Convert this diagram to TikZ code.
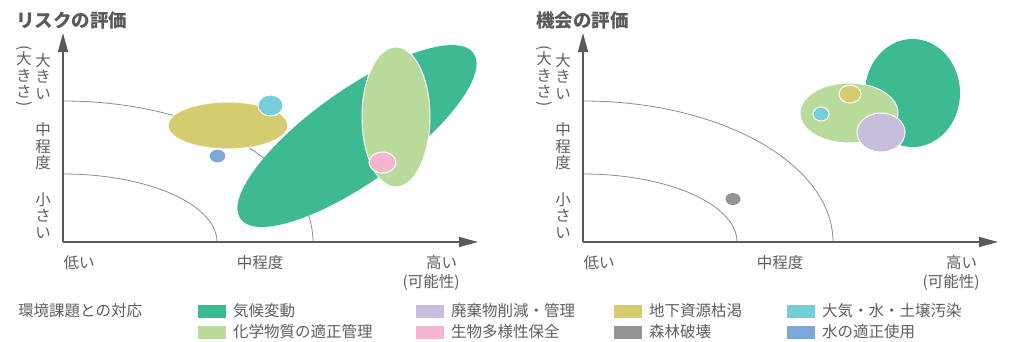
\documentclass[tikz,border=0pt]{standalone}
\usepackage{fontspec}
\setmainfont{Noto Sans CJK JP}
\usepackage{tikz}
\usetikzlibrary{arrows.meta}

\definecolor{txtgray}{HTML}{5E5E5E}
\definecolor{axisgray}{HTML}{595959}
\definecolor{arcgray}{HTML}{8C8C8C}
\definecolor{climate}{HTML}{3DBA93}
\definecolor{chemical}{HTML}{B8DB9C}
\definecolor{waste}{HTML}{C7BCDC}
\definecolor{biodiv}{HTML}{F5B5D1}
\definecolor{resource}{HTML}{D6CC6F}
\definecolor{forest}{HTML}{949494}
\definecolor{pollution}{HTML}{77CED8}
\definecolor{water}{HTML}{7BA7D9}

\begin{document}
\begin{tikzpicture}[x=1pt,y=-1pt,
    axis/.style={draw=axisgray,line width=1.5pt,-{Triangle[length=19pt,width=10pt]}},
    band/.style={draw=arcgray,line width=0.8pt},
    blob/.style={draw=white,line width=1pt},
    every node/.style={text=txtgray,inner sep=0pt,font=\fontsize{15.5}{16.5}\selectfont}]
\useasboundingbox (0,0) rectangle (1009,341);

\foreach \n/\dx/\ttl in {risk/0/リスクの評価,opp/520/機会の評価}{
  \begin{scope}[xshift=\dx pt]
    \node[anchor=west,text=axisgray,font=\fontsize{18.5}{20}\selectfont\bfseries] (\n-title) at (16,20) {\ttl};
    \coordinate (\n-O) at (63,242);
    \coordinate (\n-Y) at (63,33);
    \coordinate (\n-X) at (478,242);
    \draw[band] (\n-O) ++(0,-141) arc[start angle=90,end angle=0,x radius=250pt,y radius=141pt];
    \draw[band] (\n-O) ++(0,-68) arc[start angle=90,end angle=0,x radius=154pt,y radius=68pt];
    \draw[axis] (\n-O) -- (\n-Y);
    \draw[axis] (\n-O) -- (\n-X);
    \node[align=center] (\n-big) at (43,76.5) {大\\き\\い};
    \node[align=center] (\n-size) at (24,77.5) {\rotatebox[origin=c]{-90}{(}\\[-5pt]大\\き\\さ\\[-5pt]\rotatebox[origin=c]{-90}{)}};
    \node[align=center] (\n-mid) at (43,146.5) {中\\程\\度};
    \node[align=center] (\n-small) at (43,215.5) {小\\さ\\い};
    \node (\n-low) at (79,263) {低い};
    \node (\n-medium) at (260,263) {中程度};
    \node (\n-high) at (441.5,263) {高い};
    \node (\n-prob) at (431,282) {(可能性)};
  \end{scope}
}

\fill[climate,rotate around={35.4:(357,136)}] (357,136) ellipse[x radius=143pt,y radius=46pt];
\filldraw[blob,fill=chemical] (396,117) ellipse[x radius=34pt,y radius=70pt];
\filldraw[blob,fill=biodiv] (382.5,162.5) ellipse[x radius=13.5pt,y radius=10.5pt];
\filldraw[blob,fill=resource] (228,125.5) ellipse[x radius=60pt,y radius=23.5pt];
\filldraw[blob,fill=pollution] (270.5,105.5) ellipse[x radius=12.5pt,y radius=10.5pt];
\filldraw[blob,fill=water] (217.5,156) ellipse[x radius=8.5pt,y radius=7pt];

\fill[climate] (912.5,93) ellipse[x radius=47.5pt,y radius=54pt];
\filldraw[blob,fill=chemical] (849,113) ellipse[x radius=49pt,y radius=30pt];
\filldraw[blob,fill=resource] (850,94) ellipse[x radius=11pt,y radius=9pt];
\filldraw[blob,fill=pollution] (821,114) ellipse[x radius=8pt,y radius=7pt];
\filldraw[blob,fill=waste] (881,132.5) ellipse[x radius=24pt,y radius=19.5pt];
\fill[forest] (733,199) ellipse[x radius=7.5pt,y radius=6pt];

\node[anchor=west] (legend) at (18,311) {環境課題との対応};
\foreach \sx/\row/\c/\lbl in {198/311/climate/気候変動,198/332/chemical/化学物質の適正管理,
    416/311/waste/廃棄物削減・管理,416/332/biodiv/生物多様性保全,
    614/311/resource/地下資源枯渇,614/332/forest/森林破壊,
    787/311/pollution/大気・水・土壌汚染,787/332/water/水の適正使用}{
  \fill[\c] (\sx,\row-6.5) rectangle (\sx+28,\row+6.5);
  \node[anchor=west] (key-\c) at (\sx+35,\row) {\lbl};
}
\end{tikzpicture}
\end{document}
